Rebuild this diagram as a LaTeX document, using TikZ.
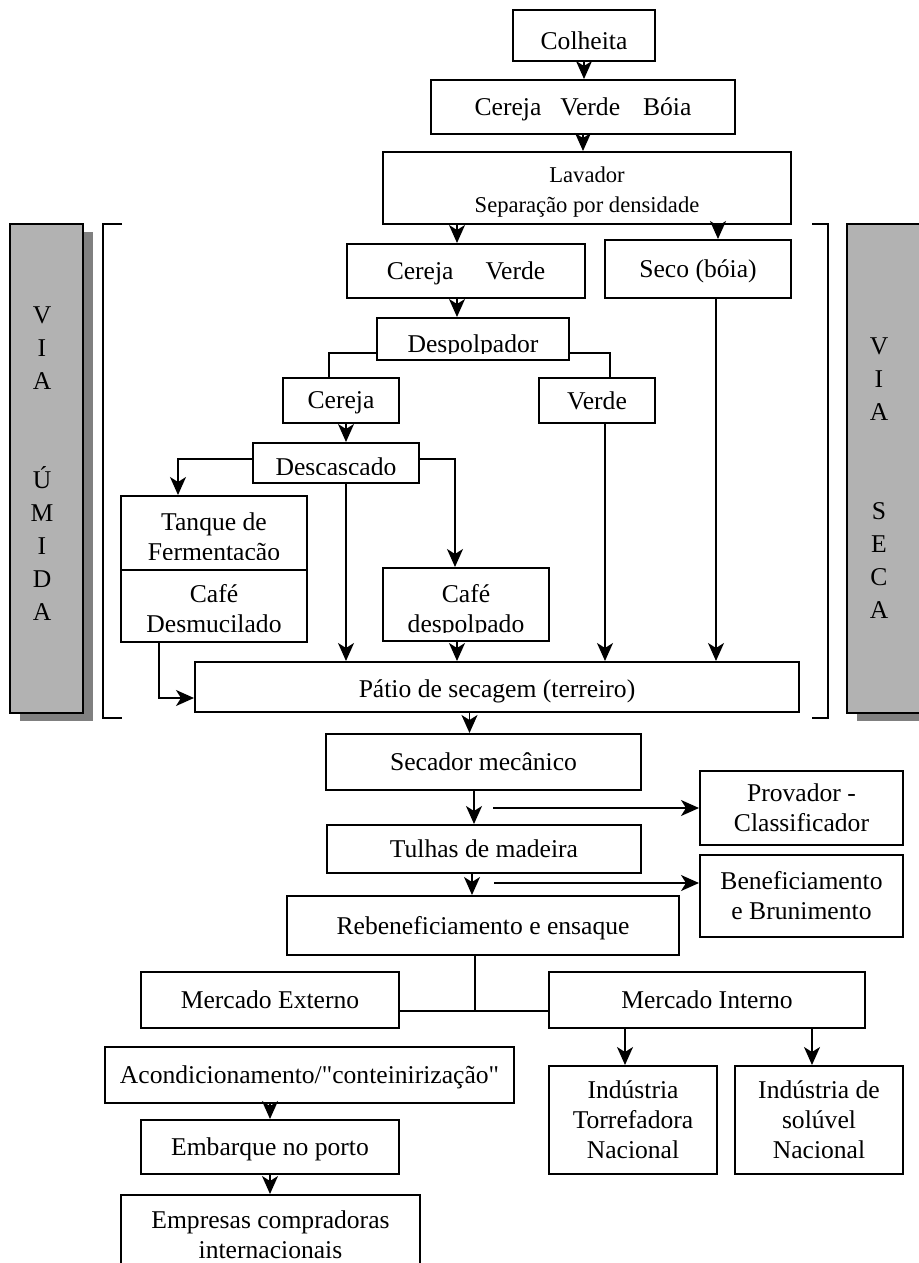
\documentclass[tikz,border=0pt]{standalone}
\usepackage{fontspec}
\setmainfont{Liberation Serif}[Ligatures=TeXOff]
\usetikzlibrary{arrows.meta}

\begin{document}
\begin{tikzpicture}[x=0.5pt,y=-0.5pt,font=\fontsize{12.8pt}{15pt}\selectfont,>={Stealth[length=9pt,width=8pt,inset=2.5pt]},
  box/.style={rectangle,draw=black,fill=white,line width=1pt,inner sep=1pt,text depth=0pt},
  tallbox/.style={rectangle,draw=black,fill=white,line width=1pt,inner sep=1pt,align=center},
  cutbox/.style n args={3}{rectangle,draw=black,fill=white,line width=1pt,
    path picture={\clip ([yshift=#3]path picture bounding box.south west) rectangle (path picture bounding box.north east);
      \node[align=center] at ([yshift=#2]path picture bounding box.center) {#1};}},
  line/.style={draw=black,line width=0.8pt},
  sidebar/.style={rectangle,draw=black,line width=0.8pt,fill=black!30,align=center,font=\fontsize{12.8pt}{16.5pt}\selectfont}]
\useasboundingbox (0,0) rectangle (919,1263);

% side bars
\fill[black!50] (20,232) rectangle (93,721);
\node[sidebar,minimum width=36.5pt,minimum height=244.5pt] (umidabar) at (46.5,468.5) {};
\node[align=center,font=\fontsize{12.8pt}{16.5pt}\selectfont] (umidatxt) at (42,464) {V\\I\\A\\[33pt]Ú\\M\\I\\D\\A};
\fill[black!50] (857,232) rectangle (935,721);
\node[sidebar,minimum width=39pt,minimum height=244.5pt] (secabar) at (886,468.5) {};
\node[align=center,font=\fontsize{12.8pt}{16.5pt}\selectfont] (secatxt) at (879,478) {V\\I\\A\\[33pt]S\\E\\C\\A};
\draw[line] (122,224) -- (103,224) -- (103,718) -- (122,718);
\draw[line] (812,224) -- (828,224) -- (828,718) -- (812,718);

% boxes
\node[box,text height=14pt,minimum width=71pt,minimum height=25.5pt] (colheita) at (584,35.5) {Colheita};
\node[box,minimum width=152pt,minimum height=27pt] (cvb) at (583,107) {Cereja\hspace{9.5pt}Verde\hspace{11.5pt}Bóia};
\node[cutbox={\fontsize{11.3pt}{12.5pt}\selectfont Lavador\\\fontsize{11.3pt}{12.5pt}\selectfont Separação por densidade}{-2pt}{0pt},minimum width=204pt,minimum height=36pt] (lavador) at (587,188) {};
\node[box,minimum width=119pt,minimum height=27pt] (cerver) at (466,271) {Cereja\hspace{16pt}Verde};
\node[box,minimum width=93pt,minimum height=29pt] (seco) at (698,269) {Seco (bóia)};
\node[cutbox={Despolpador}{-3.5pt}{3.5pt},minimum width=96pt,minimum height=21pt] (despolp) at (473,339) {};
\node[box,minimum width=58pt,minimum height=22.5pt] (cereja) at (341,400.5) {Cereja};
\node[box,minimum width=58pt,minimum height=22.5pt] (verde) at (597,400.5) {Verde};
\node[cutbox={Descascado}{-1.7pt}{4.5pt},minimum width=83pt,minimum height=20pt] (descasc) at (336,463) {};
\node[cutbox={Tanque de\\Fermentação}{-3pt}{5.5pt},minimum width=93pt,minimum height=37pt] (tanque) at (214,533) {};
\node[cutbox={Café\\Desmucilado}{-1.5pt}{4.5pt},minimum width=93pt,minimum height=36pt] (desmuc) at (214,606) {};
\node[cutbox={Café\\despolpado}{-3.25pt}{4.5pt},minimum width=83pt,minimum height=36.5pt] (cafedesp) at (466,604.5) {};
\node[box,text height=10pt,minimum width=302pt,minimum height=25pt] (patio) at (497,687) {Pátio de secagem (terreiro)};
\node[box,minimum width=157.5pt,minimum height=28pt] (secador) at (483.5,762) {Secador mecânico};
\node[tallbox,minimum width=101.5pt,minimum height=37pt] (provador) at (801.5,808) {Provador -\\Classificador};
\node[box,minimum width=157pt,minimum height=24pt] (tulhas) at (484,849) {Tulhas de madeira};
\node[tallbox,minimum width=101.5pt,minimum height=41pt] (benef) at (801.5,896) {Beneficiamento\\e Brunimento};
\node[box,minimum width=196pt,minimum height=29.5pt] (rebenef) at (483,925.5) {Rebeneficiamento e ensaque};
\node[box,minimum width=129pt,minimum height=28pt] (mercext) at (270,1000) {Mercado Externo};
\node[box,minimum width=158pt,minimum height=28pt] (mercint) at (707,1000) {Mercado Interno};
\node[tallbox,minimum width=84pt,minimum height=54pt] (torref) at (633,1120) {Indústria\\Torrefadora\\Nacional};
\node[tallbox,minimum width=84pt,minimum height=54pt] (soluvel) at (819,1120) {Indústria de\\solúvel\\Nacional};
\node[box,minimum width=204.5pt,minimum height=28pt] (acond) at (309.5,1075) {Acondicionamento/"conteinirização"};
\node[box,minimum width=129pt,minimum height=27pt] (embarque) at (270,1147) {Embarque no porto};
\node[tallbox,minimum width=149.5pt,minimum height=40pt] (empresas) at (270.5,1235) {Empresas compradoras\\internacionais};

% connectors
\draw[line,->] (colheita) -- (colheita |- cvb.north);
\draw[line,->] (cvb) -- (cvb |- lavador.north);
\draw[line,->] ([xshift=-4.5pt]cerver.north |- lavador.south) -- ([xshift=-4.5pt]cerver.north);
\draw[line,->] ([xshift=10pt]seco.north |- lavador.south) -- ([xshift=10pt]seco.north);
\draw[line,->] ([xshift=-4.5pt]cerver.south) -- ([xshift=-4.5pt]cerver.south |- despolp.north);
\draw[line] ([yshift=-7pt]despolp.west) -| ([xshift=-6pt]cereja.north);
\draw[line] ([yshift=-7pt]despolp.east) -| ([xshift=6.5pt]verde.north);
\draw[line,->] ([xshift=2.5pt]cereja.south) -- ([xshift=2.5pt]cereja.south |- descasc.north);
\draw[line,->] ([yshift=2pt]descasc.west) -| ([xshift=-18pt]tanque.north);
\draw[line,->] ([yshift=2pt]descasc.east) -| ([xshift=-5.5pt]cafedesp.north);
\draw[line,->] ([xshift=5pt]descasc.south) -- ([xshift=5pt]descasc.south |- patio.north);
\draw[line,->] ([xshift=-4.5pt]cafedesp.south) -- ([xshift=-4.5pt]cafedesp.south |- patio.north);
\draw[line,->] ([xshift=4pt]verde.south) -- ([xshift=4pt]verde.south |- patio.north);
\draw[line,->] ([xshift=9pt]seco.south) -- ([xshift=9pt]seco.south |- patio.north);
\draw[line,->] ([xshift=-27.5pt]desmuc.south) |- ([yshift=-5.5pt]patio.west);
\draw[line,->] ([xshift=-7pt]secador.north |- patio.south) -- ([xshift=-7pt]secador.north);
\draw[line,->] ([xshift=-5pt]tulhas.north |- secador.south) -- ([xshift=-5pt]tulhas.north);
\coordinate (provfork) at (493,808);
\draw[line,->] (provfork) -- (provfork -| provador.west);
\draw[line,->] ([xshift=-6pt]tulhas.south) -- ([xshift=-6pt]tulhas.south |- rebenef.north);
\coordinate (benfork) at (494,883);
\draw[line,->] (benfork) -- (benfork -| benef.west);
\coordinate (mktjoin) at ([yshift=-5.5pt]mercext.east);
\draw[line] ([xshift=-4pt]rebenef.south) -- ([xshift=-4pt]rebenef.south |- mktjoin);
\draw[line] (mktjoin) -- (mktjoin -| mercint.west);
\draw[line,->] ([xshift=-4pt]torref.north |- mercint.south) -- ([xshift=-4pt]torref.north);
\draw[line,->] ([xshift=-3.5pt]soluvel.north |- mercint.south) -- ([xshift=-3.5pt]soluvel.north);
\draw[line,->] (embarque |- acond.south) -- (embarque.north);
\draw[line,->] (embarque.south) -- (embarque.south |- empresas.north);
\end{tikzpicture}
\end{document}
